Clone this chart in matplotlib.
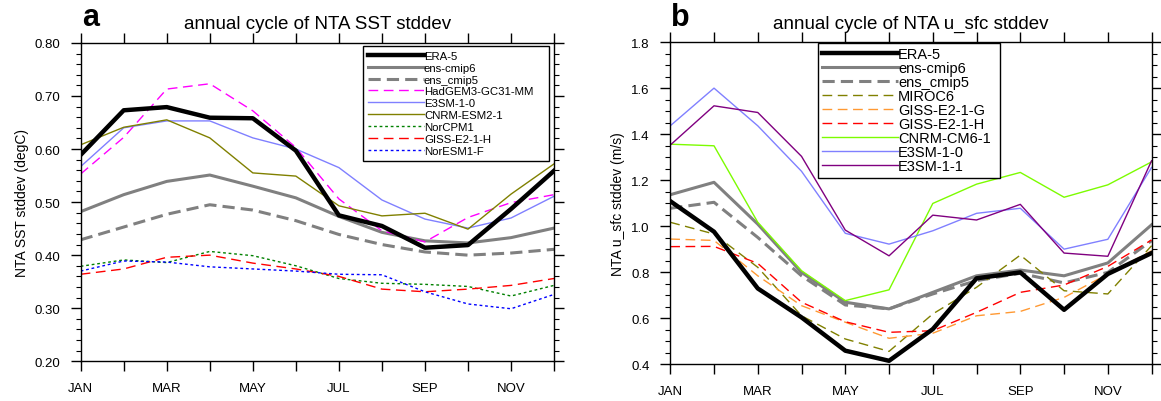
import matplotlib
matplotlib.use("Agg")
import matplotlib.pyplot as plt
import numpy as np

plt.rcParams['font.family'] = ['Liberation Sans', 'DejaVu Sans']

months = ['JAN', 'FEB', 'MAR', 'APR', 'MAY', 'JUN', 'JUL', 'AUG', 'SEP', 'OCT', 'NOV', 'DEC']

# panel a: NTA SST stddev (degC)
sst_era5 = [0.589, 0.673, 0.679, 0.659, 0.658, 0.597, 0.475, 0.455, 0.414, 0.419, 0.487, 0.559]
sst_cmip6 = [0.482, 0.514, 0.539, 0.551, 0.530, 0.508, 0.473, 0.443, 0.427, 0.423, 0.433, 0.451]
sst_cmip5 = [0.429, 0.453, 0.477, 0.495, 0.485, 0.465, 0.439, 0.420, 0.406, 0.400, 0.404, 0.411]
sst_hadgem = [0.553, 0.622, 0.713, 0.723, 0.672, 0.603, 0.506, 0.446, 0.425, 0.471, 0.499, 0.514]
sst_e3sm10 = [0.567, 0.640, 0.653, 0.653, 0.621, 0.600, 0.565, 0.504, 0.468, 0.451, 0.470, 0.511]
sst_cnrm = [0.608, 0.641, 0.655, 0.621, 0.555, 0.549, 0.493, 0.474, 0.479, 0.449, 0.515, 0.572]
sst_norcpm = [0.379, 0.391, 0.386, 0.407, 0.399, 0.380, 0.356, 0.347, 0.345, 0.341, 0.323, 0.343]
sst_gissh = [0.364, 0.374, 0.396, 0.400, 0.385, 0.374, 0.360, 0.336, 0.331, 0.336, 0.343, 0.356]
sst_noresm = [0.370, 0.389, 0.387, 0.378, 0.374, 0.370, 0.364, 0.363, 0.331, 0.308, 0.299, 0.326]

# panel b: NTA u_sfc stddev (m/s)
u_era5 = [1.109, 0.976, 0.729, 0.603, 0.458, 0.414, 0.552, 0.773, 0.799, 0.636, 0.792, 0.883]
u_cmip6 = [1.137, 1.191, 1.009, 0.799, 0.669, 0.640, 0.712, 0.784, 0.809, 0.784, 0.840, 1.006]
u_cmip5 = [1.078, 1.104, 0.951, 0.784, 0.657, 0.640, 0.705, 0.763, 0.795, 0.753, 0.799, 0.937]
u_miroc = [1.017, 0.966, 0.821, 0.610, 0.509, 0.455, 0.618, 0.734, 0.874, 0.719, 0.705, 0.915]
u_gissg = [0.944, 0.938, 0.784, 0.654, 0.582, 0.512, 0.534, 0.610, 0.629, 0.690, 0.792, 0.893]
u_gissh = [0.911, 0.912, 0.838, 0.669, 0.584, 0.538, 0.545, 0.625, 0.712, 0.744, 0.825, 0.940]
u_cnrm = [1.357, 1.350, 1.017, 0.806, 0.676, 0.723, 1.099, 1.183, 1.234, 1.126, 1.180, 1.280]
u_e3sm10 = [1.437, 1.601, 1.437, 1.239, 0.969, 0.922, 0.980, 1.056, 1.078, 0.900, 0.943, 1.256]
u_e3sm11 = [1.353, 1.524, 1.495, 1.304, 0.983, 0.871, 1.048, 1.027, 1.095, 0.883, 0.869, 1.285]

x = np.arange(12)

fig = plt.figure(figsize=(11.61, 4.02), dpi=100)
ax1 = fig.add_axes([0.0695, 0.0988, 0.4077, 0.792])
ax2 = fig.add_axes([0.5773, 0.092, 0.4146, 0.800])

e3sm_col = '#8080ff'

ax1.plot(x, sst_era5, color='black', lw=3.2, label='ERA-5', zorder=5)
ax1.plot(x, sst_cmip6, color='#808080', lw=2.2, label='ens-cmip6')
ax1.plot(x, sst_cmip5, color='#808080', lw=2.2, dashes=(4, 2), label='ens_cmip5')
ax1.plot(x, sst_hadgem, color='magenta', lw=1.0, dashes=(7, 4), label='HadGEM3-GC31-MM')
ax1.plot(x, sst_e3sm10, color=e3sm_col, lw=1.0, label='E3SM-1-0')
ax1.plot(x, sst_cnrm, color='#808000', lw=1.0, label='CNRM-ESM2-1')
ax1.plot(x, sst_norcpm, color='green', lw=1.0, dashes=(2, 2), label='NorCPM1')
ax1.plot(x, sst_gissh, color='red', lw=1.0, dashes=(7, 4), label='GISS-E2-1-H')
ax1.plot(x, sst_noresm, color='blue', lw=1.0, dashes=(2, 2), label='NorESM1-F')

ax2.plot(x, u_era5, color='black', lw=3.2, label='ERA-5', zorder=5)
ax2.plot(x, u_cmip6, color='#808080', lw=2.2, label='ens-cmip6')
ax2.plot(x, u_cmip5, color='#808080', lw=2.2, dashes=(4, 2), label='ens_cmip5')
ax2.plot(x, u_miroc, color='#808000', lw=1.0, dashes=(7, 4), label='MIROC6')
ax2.plot(x, u_gissg, color='#ff9933', lw=1.0, dashes=(7, 4), label='GISS-E2-1-G')
ax2.plot(x, u_gissh, color='red', lw=1.0, dashes=(7, 4), label='GISS-E2-1-H')
ax2.plot(x, u_cnrm, color='#7cfc00', lw=1.0, label='CNRM-CM6-1')
ax2.plot(x, u_e3sm10, color=e3sm_col, lw=1.0, label='E3SM-1-0')
ax2.plot(x, u_e3sm11, color='purple', lw=1.0, label='E3SM-1-1')

for ax in (ax1, ax2):
    ax.set_xlim(0, 11)
    ax.set_xticks(x)
    ax.set_xticklabels([m if i % 2 == 0 else '' for i, m in enumerate(months)])
    ax.tick_params(which='both', direction='out', top=True, right=True, labelsize=9.5)
    ax.tick_params(which='major', length=7, width=1.0, pad=8)
    ax.tick_params(which='minor', length=3.5, width=0.8)
    for s in ax.spines.values():
        s.set_linewidth(1.0)

ax1.set_ylim(0.2, 0.8)
ax1.set_yticks(np.arange(0.2, 0.81, 0.1))
ax1.set_yticklabels(['%.2f' % v for v in np.arange(0.2, 0.81, 0.1)])
ax1.set_yticks(np.arange(0.2, 0.801, 0.02), minor=True)
ax1.set_ylabel('NTA SST stddev (degC)', fontsize=10, labelpad=4)

ax2.set_ylim(0.4, 1.8)
ax2.set_yticks(np.arange(0.4, 1.81, 0.2))
ax2.set_yticklabels(['%.1f' % v for v in np.arange(0.4, 1.81, 0.2)])
ax2.set_yticks(np.arange(0.4, 1.801, 0.05), minor=True)
ax2.set_ylabel('NTA u_sfc stddev (m/s)', fontsize=10, labelpad=4)

# titles and panel letters
fig.text(317.4 / 1161, 0.928, 'annual cycle of NTA SST stddev', fontsize=13.5,
         ha='center', va='baseline')
fig.text(911 / 1161, 0.928, 'annual cycle of NTA u_sfc stddev', fontsize=13.5,
         ha='center', va='baseline')
fig.text(0.071, 0.935, 'a', fontsize=22, fontweight='bold')
fig.text(0.578, 0.935, 'b', fontsize=22, fontweight='bold')

leg1 = ax1.legend(loc='upper left', bbox_to_anchor=(0.5965, 0.5, 0.393, 0.4906),
                  mode='expand', fontsize=8.2,
                  handlelength=4.9, handletextpad=0.0, labelspacing=0.16,
                  borderpad=0.45, borderaxespad=0, fancybox=False, framealpha=1)
leg1.get_frame().set_edgecolor('black')
leg1.get_frame().set_linewidth(1.0)

leg2 = ax2.legend(loc='upper left', bbox_to_anchor=(0.3068, 0.5, 0.378, 0.498),
                  mode='expand', fontsize=10.5,
                  handlelength=5.2, handletextpad=0.0, labelspacing=0.0,
                  borderpad=0.3, borderaxespad=0, fancybox=False, framealpha=1)
leg2.get_frame().set_edgecolor('black')
leg2.get_frame().set_linewidth(1.0)

fig.savefig('out.png', dpi=100)
